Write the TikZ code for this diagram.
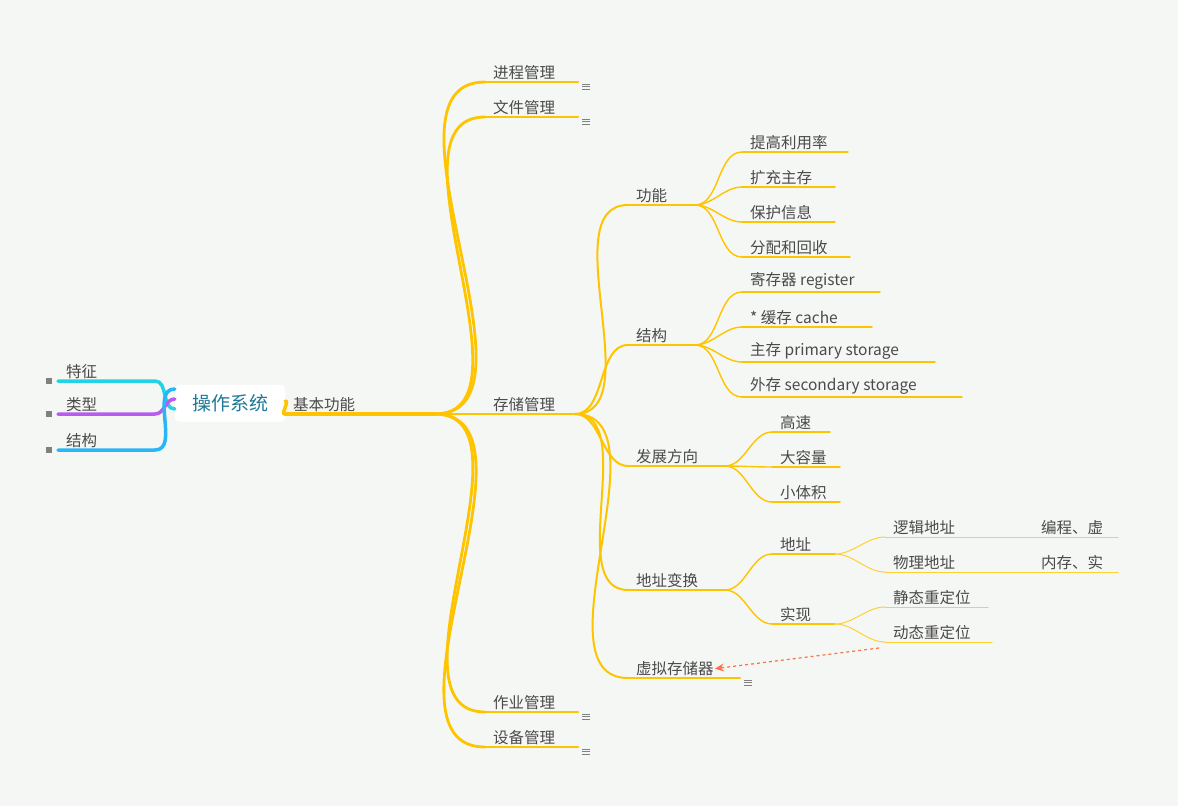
\documentclass[tikz,border=0pt]{standalone}
\usepackage{fontspec}
\setmainfont{Noto Sans CJK SC}
\usetikzlibrary{arrows.meta}
\definecolor{bgc}{HTML}{F5F7F4}
\definecolor{ylw}{HTML}{FFC400}
\definecolor{txt}{HTML}{4A4A4A}
\definecolor{rootc}{HTML}{1E7A96}
\definecolor{cyanc}{HTML}{22D3E6}
\definecolor{purc}{HTML}{B85CF0}
\definecolor{bluec}{HTML}{29B6F6}
\definecolor{arrc}{HTML}{FF7043}
\newcommand{\topic}[6]{% #1: name, #2: x1, #3: x2, #4: y, #5: text, #6: line style
	\coordinate (#1-s) at (#2,#4); \coordinate (#1-e) at (#3,#4);
	\node[lbl] (#1) at (#2+7,#4-1) {#5};
	\draw[#6] (#1-s) -- (#1-e);
}
\newcommand{\fold}[1]{% #1: node name
	\foreach \k in {0,2.5,5} \draw[gray,line width=0.8] ([xshift=4,yshift=-2-\k]#1-e) -- ++(8,0);
}
\tikzset{
	lbl/.style={anchor=south west,inner sep=1pt,text=txt,font=\fontsize{15.5}{17}\selectfont},
	lv1/.style={ylw,line width=3.5,line cap=round},
	lv2/.style={ylw,line width=2.8,line cap=round},
	lv3/.style={ylw,line width=2,line cap=round},
	lv4/.style={ylw,line width=1.4,line cap=round},
	lv5/.style={ylw!80,line width=1,line cap=round},
	link/.style={out=0,in=180,looseness=0.9}
}
\begin{document}
\begin{tikzpicture}[x=1pt,y=-1pt]
	\useasboundingbox[fill=bgc] (0,0) rectangle (1178,806);
	
	% root
	\node[fill=white,rounded corners=4pt,minimum width=110,minimum height=37,text=rootc,
	      font=\fontsize{19}{21}\selectfont] (root) at (230,403) {操作系统};
	
	% left side
	\coordinate (f1-s) at (58,381); \coordinate (f1-e) at (155,381);
	\node[lbl] (f1) at (65,380) {特征};
	\coordinate (f2-s) at (58,414); \coordinate (f2-e) at (155,414);
	\node[lbl] (f2) at (65,413) {类型};
	\coordinate (f3-s) at (58,450); \coordinate (f3-e) at (155,450);
	\node[lbl] (f3) at (65,449) {结构};
	\draw[cyanc,line width=3.5,line cap=round] (f1-s) -- (f1-e) to[out=0,in=180] ([yshift=-6]root.west);
	\draw[purc,line width=3.5,line cap=round] (f2-s) -- (f2-e) to[out=0,in=180] ([yshift=4]root.west);
	\draw[bluec,line width=3.5,line cap=round] (f3-s) -- (f3-e) to[out=0,in=180] ([yshift=14]root.west);
	\foreach \n in {f1,f2,f3} \fill[gray] ([xshift=-12,yshift=-3]\n-s) rectangle ([xshift=-6,yshift=3]\n-s);
	
	% 基本功能
	\topic{jb}{285}{435}{414}{基本功能}{lv1}
	\draw[lv1] ([yshift=2]root.east) to[link] (jb-s);
	
	\topic{jc}{485}{578}{82}{进程管理}{lv2}
	\topic{wj}{485}{578}{117}{文件管理}{lv2}
	\topic{cc}{485}{575}{414}{存储管理}{lv2}
	\topic{zy}{485}{578}{712}{作业管理}{lv2}
	\topic{sb}{485}{578}{747}{设备管理}{lv2}
	\foreach \n in {jc,wj,cc,zy,sb} \draw[lv2] (jb-e) to[link] (\n-s);
	\fold{jc} \fold{wj} \fold{zy} \fold{sb}
	
	% 存储管理
	\topic{gn}{628}{695}{205}{功能}{lv3}
	\topic{jg}{628}{695}{345}{结构}{lv3}
	\topic{fz}{628}{725}{466}{发展方向}{lv3}
	\topic{dz}{628}{725}{590}{地址变换}{lv3}
	\topic{xn}{628}{740}{678}{虚拟存储器}{lv3}
	\foreach \n in {gn,jg,fz,dz,xn} \draw[lv3] (cc-e) to[link] (\n-s);
	\fold{xn}
	
	% 功能
	\topic{gn1}{742}{848}{152}{提高利用率}{lv4}
	\topic{gn2}{742}{835}{187}{扩充主存}{lv4}
	\topic{gn3}{742}{835}{222}{保护信息}{lv4}
	\topic{gn4}{742}{850}{257}{分配和回收}{lv4}
	\foreach \n in {gn1,gn2,gn3,gn4} \draw[lv4] (gn-e) to[link] (\n-s);
	
	% 结构
	\topic{jg1}{742}{880}{292}{寄存器 register}{lv4}
	\topic{jg2}{742}{872}{327}{* 缓存 cache}{lv4}
	\topic{jg3}{742}{935}{362}{主存 primary storage}{lv4}
	\topic{jg4}{742}{962}{397}{外存 secondary storage}{lv4}
	\foreach \n in {jg1,jg2,jg3,jg4} \draw[lv4] (jg-e) to[link] (\n-s);
	
	% 发展方向
	\topic{fz1}{772}{830}{432}{高速}{lv4}
	\topic{fz2}{772}{840}{467}{大容量}{lv4}
	\topic{fz3}{772}{840}{502}{小体积}{lv4}
	\foreach \n in {fz1,fz2,fz3} \draw[lv4] (fz-e) to[link] (\n-s);
	
	% 地址变换
	\topic{dz1}{772}{835}{554}{地址}{lv4}
	\topic{dz2}{772}{835}{624}{实现}{lv4}
	\foreach \n in {dz1,dz2} \draw[lv4] (dz-e) to[link] (\n-s);
	
	\topic{lj}{885}{975}{537}{逻辑地址}{lv5}
	\topic{wl}{885}{975}{572}{物理地址}{lv5}
	\foreach \n in {lj,wl} \draw[lv5] (dz1-e) to[link] (\n-s);
	\topic{lj1}{1033}{1118}{537}{编程、虚}{lv5}
	\topic{wl1}{1033}{1118}{572}{内存、实}{lv5}
	\draw[lv5] (lj-e) -- (lj1-s);
	\draw[lv5] (wl-e) -- (wl1-s);
	
	\topic{jt}{885}{988}{607}{静态重定位}{lv5}
	\topic{dt}{885}{992}{642}{动态重定位}{lv5}
	\foreach \n in {jt,dt} \draw[lv5] (dz2-e) to[link] (\n-s);
	
	% dashed link
	\draw[arrc,line width=1.2,dashed,-{Stealth[length=9pt,width=8pt]}] ([xshift=-6,yshift=-6]dt-s) -- (xn.east);
\end{tikzpicture}
\end{document}
